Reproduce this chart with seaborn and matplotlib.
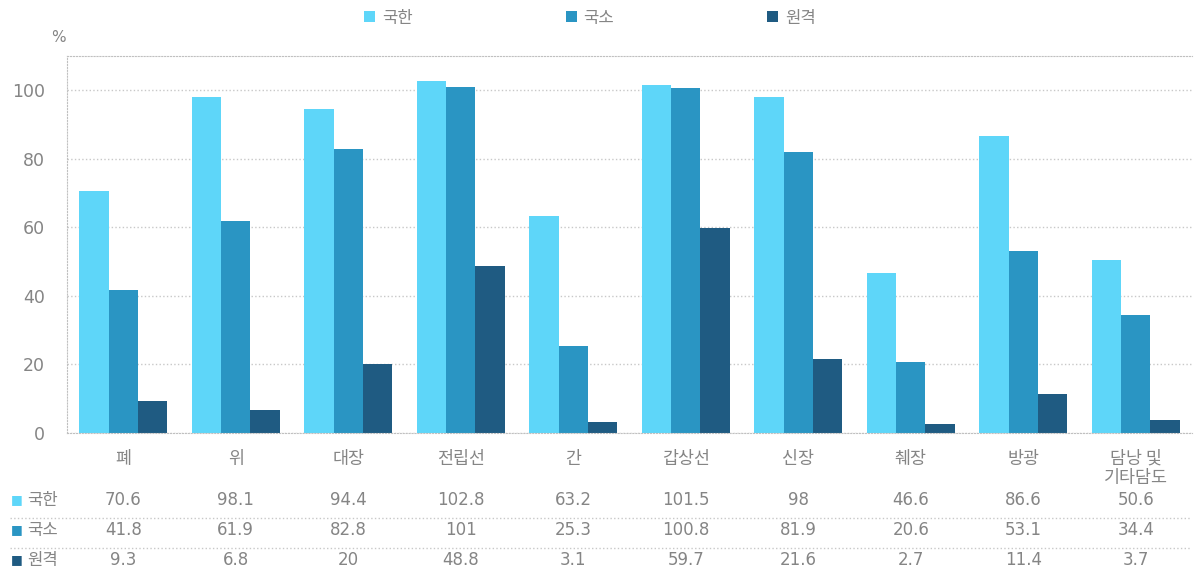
import pandas as pd
import matplotlib
matplotlib.use("Agg")
import matplotlib.pyplot as plt
import matplotlib.transforms as mtransforms
from matplotlib.lines import Line2D
import seaborn as sns

# chart values
categories = ["폐", "위", "대장", "전립선", "간", "갑상선", "신장", "췌장", "방광", "담낭 및\n기타담도"]
stages = ["국한", "국소", "원격"]
localized = [70.6, 98.1, 94.4, 102.8, 63.2, 101.5, 98, 46.6, 86.6, 50.6]
regional = [41.8, 61.9, 82.8, 101, 25.3, 100.8, 81.9, 20.6, 53.1, 34.4]
distant = [9.3, 6.8, 20, 48.8, 3.1, 59.7, 21.6, 2.7, 11.4, 3.7]
table_labels = [
    ["70.6", "98.1", "94.4", "102.8", "63.2", "101.5", "98", "46.6", "86.6", "50.6"],
    ["41.8", "61.9", "82.8", "101", "25.3", "100.8", "81.9", "20.6", "53.1", "34.4"],
    ["9.3", "6.8", "20", "48.8", "3.1", "59.7", "21.6", "2.7", "11.4", "3.7"],
]
colors = ["#5ed6f9", "#2a95c3", "#1f5b82"]

df = pd.DataFrame({
    "category": categories * 3,
    "stage": [stages[0]] * 10 + [stages[1]] * 10 + [stages[2]] * 10,
    "value": localized + regional + distant,
})

sns.set_style("white")
plt.rcParams["font.family"] = ["Noto Sans CJK KR", "DejaVu Sans"]
text_color = "#858585"
num_font = ["DejaVu Sans"]

W, H = 1194, 574
fig = plt.figure(figsize=(W / 100, H / 100), dpi=100)
ax = fig.add_axes([67 / W, 1 - 433 / H, (1192 - 67) / W, (433 - 56) / H])

sns.barplot(data=df, x="category", y="value", hue="stage", palette=colors,
            width=0.78, saturation=1, linewidth=0, ax=ax, legend=True)

ax.set_ylim(0, 110)
ax.set_yticks([0, 20, 40, 60, 80, 100])
ax.set_xlabel("")
ax.set_ylabel("")
ax.yaxis.grid(True, linestyle=":", color="#c8c8c8", linewidth=1)
ax.set_axisbelow(True)
for side in ["left", "top", "bottom"]:
    ax.spines[side].set_visible(True)
    ax.spines[side].set_linestyle(":")
    ax.spines[side].set_color("#c0c0c0")
ax.spines["right"].set_visible(False)
ax.tick_params(axis="y", length=0, pad=16, labelcolor=text_color)
ax.tick_params(axis="x", length=0, pad=12, labelsize=12.5, labelcolor=text_color)
for lbl in ax.get_yticklabels():
    lbl.set_family(num_font)
    lbl.set_fontsize(12.5)
for lbl in ax.get_xticklabels():
    lbl.set_linespacing(1.1)

fig.text(58 / W, 1 - 37 / H, "%", ha="center", va="center", fontsize=11,
         color=text_color, family=num_font)

# legend on top
handles, labels = ax.get_legend_handles_labels()
ax.legend_.remove()
fig.legend(handles, labels, loc="center", bbox_to_anchor=(590 / W, 1 - 18 / H),
           ncol=3, frameon=False, fontsize=12, labelcolor=text_color,
           handlelength=0.65, handleheight=0.65, handletextpad=0.4, columnspacing=9.2)

# data table under the axes
trans = mtransforms.blended_transform_factory(ax.transData, fig.transFigure)
row_y = [500, 530, 560]
for i, row in enumerate(table_labels):
    y = 1 - row_y[i] / H
    fig.text(17 / W, y, "■", ha="center", va="center", fontsize=9,
             color=colors[i], family=num_font)
    fig.text(27 / W, y, stages[i], ha="left", va="center", fontsize=12, color=text_color)
    for j, val in enumerate(row):
        ax.text(j, y, val, transform=trans, ha="center", va="center",
                fontsize=12, color=text_color, family=num_font)
for y in [518, 548]:
    fig.add_artist(Line2D([10 / W, 1190 / W], [1 - y / H, 1 - y / H],
                          linestyle=":", color="#c8c8c8", linewidth=1))

fig.savefig("out.png", dpi=100)
